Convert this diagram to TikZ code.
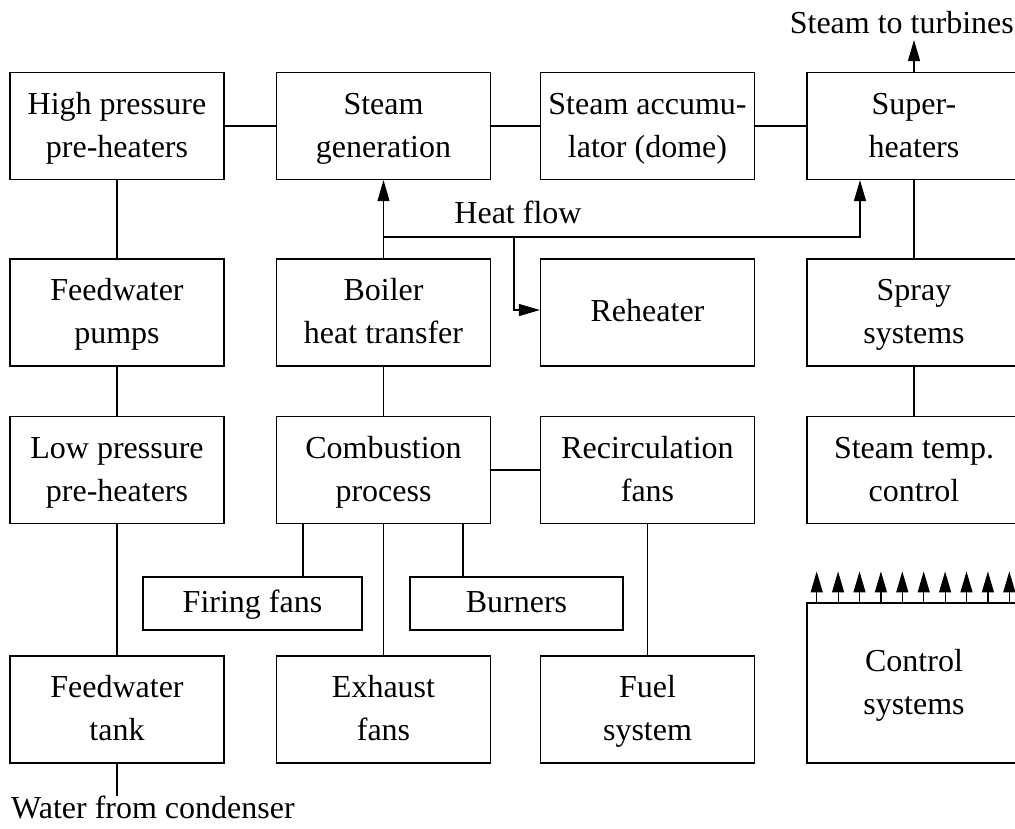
\documentclass[tikz,border=0pt]{standalone}
\usepackage{fontspec}
\setmainfont{Liberation Serif}
\usetikzlibrary{arrows.meta,calc}
% two centred lines whose baseline is the last line's baseline
\newcommand\cellstack[1]{\begin{tabular}[b]{@{}c@{}}#1\end{tabular}}
\begin{document}
\begin{tikzpicture}[x=1pt,y=-1pt,
  every node/.style={font=\fontsize{32}{42.7}\selectfont, inner sep=0pt},
  framed/.style={draw, line width=1.2pt},
  box/.style={framed, minimum width=214pt, minimum height=107pt, text height=62pt, text depth=0pt},
  onebox/.style={framed, minimum width=214pt, minimum height=107pt, text height=17pt, text depth=0pt},
  smallbox/.style={framed, minimum height=53pt, text height=17pt, text depth=0pt},
  link/.style={line width=1.2pt},
  arr/.style={line width=1.2pt, -{Triangle[length=21pt,width=12pt]}}
]
\clip (0,0) rectangle (1015,828);

% first row
\node[box] (hpp) at (117,126) {\cellstack{High pressure\\pre-heaters}};
\node[box] (sg)  at (383.5,126) {\cellstack{Steam\\generation}};
\node[box] (acc) at (647.5,126) {\cellstack{Steam accumu-\\lator (dome)}};
\node[box] (sh)  at (914,126) {\cellstack{Super-\\heaters}};

% second row
\node[box] (fwp)   at (117,312.5) {\cellstack{Feedwater\\pumps}};
\node[box] (bht)   at (383.5,312.5) {\cellstack{Boiler\\heat transfer}};
\node[onebox] (reh) at (647.5,312.5) {Reheater};
\node[box] (spray) at (914,312.5) {\cellstack{Spray\\systems}};

% third row
\node[box] (lpp)    at (117,470) {\cellstack{Low pressure\\pre-heaters}};
\node[box] (comb)   at (383.5,470) {\cellstack{Combustion\\process}};
\node[box] (recirc) at (647.5,470) {\cellstack{Recirculation\\fans}};
\node[box] (stc)    at (914,470) {\cellstack{Steam temp.\\control}};

% combustion auxiliaries
\node[smallbox, minimum width=219pt] (ff)  at (252.5,603.5) {Firing fans};
\node[smallbox, minimum width=213pt] (brn) at (516.5,603.5) {Burners};

% fourth row
\node[box] (fwt)  at (117,709.5) {\cellstack{Feedwater\\tank}};
\node[box] (exh)  at (383.5,709.5) {\cellstack{Exhaust\\fans}};
\node[box] (fuel) at (647.5,709.5) {\cellstack{Fuel\\system}};
\node[box, minimum height=160pt] (ctrl) at (914,683) {\cellstack{Control\\systems}};

% external labels
\node[anchor=base west] (water) at (11,818) {Water from condenser};
\node[anchor=base east] (turbtxt) at (1014,33) {Steam to turbines};
\node[anchor=base] (hflow) at (518,223) {Heat flow};
\coordinate (turb) at (914,40);

% water / steam path
\draw[link] (hpp) -- (sg);
\draw[link] (sg) -- (acc);
\draw[link] (acc) -- (sh);
\draw[link] (hpp) -- (fwp);
\draw[link] (fwp) -- (lpp);
\draw[link] (lpp) -- (fwt);
\draw[link] (fwt.south) -- ([yshift=-1pt]fwt.south |- water.north);
\draw[arr] (sh.north) -- (turb);
\draw[link] (sh) -- (spray);
\draw[link] (spray) -- (stc);

% heat flow
\coordinate (hfa) at (383.5,237);
\coordinate (hfb) at (860,237);
\coordinate (hfc) at (514,237);
\coordinate (hfd) at (514,310);
\draw[arr] (bht.north) -- (sg.south);
\draw[arr] (hfa) -- (hfb) -- (hfb |- sh.south);
\draw[arr] (hfc) -- (hfd) -- (reh.west |- hfd);

% combustion
\draw[link] (bht) -- (comb);
\draw[link] (comb) -- (recirc);
\coordinate (cff) at (303,523);
\coordinate (cbr) at (463,523);
\draw[link] (cff) -- (cff |- ff.north);
\draw[link] (cbr) -- (cbr |- brn.north);
\draw[link] (comb.south) -- (exh.north);
\draw[link] (recirc) -- (fuel);

% control outputs
\foreach \i in {0,...,9}
  \draw[arr] ($(ctrl.north west)+(10.3+21.4*\i,0)$) -- ++(0,-31);
\end{tikzpicture}
\end{document}
